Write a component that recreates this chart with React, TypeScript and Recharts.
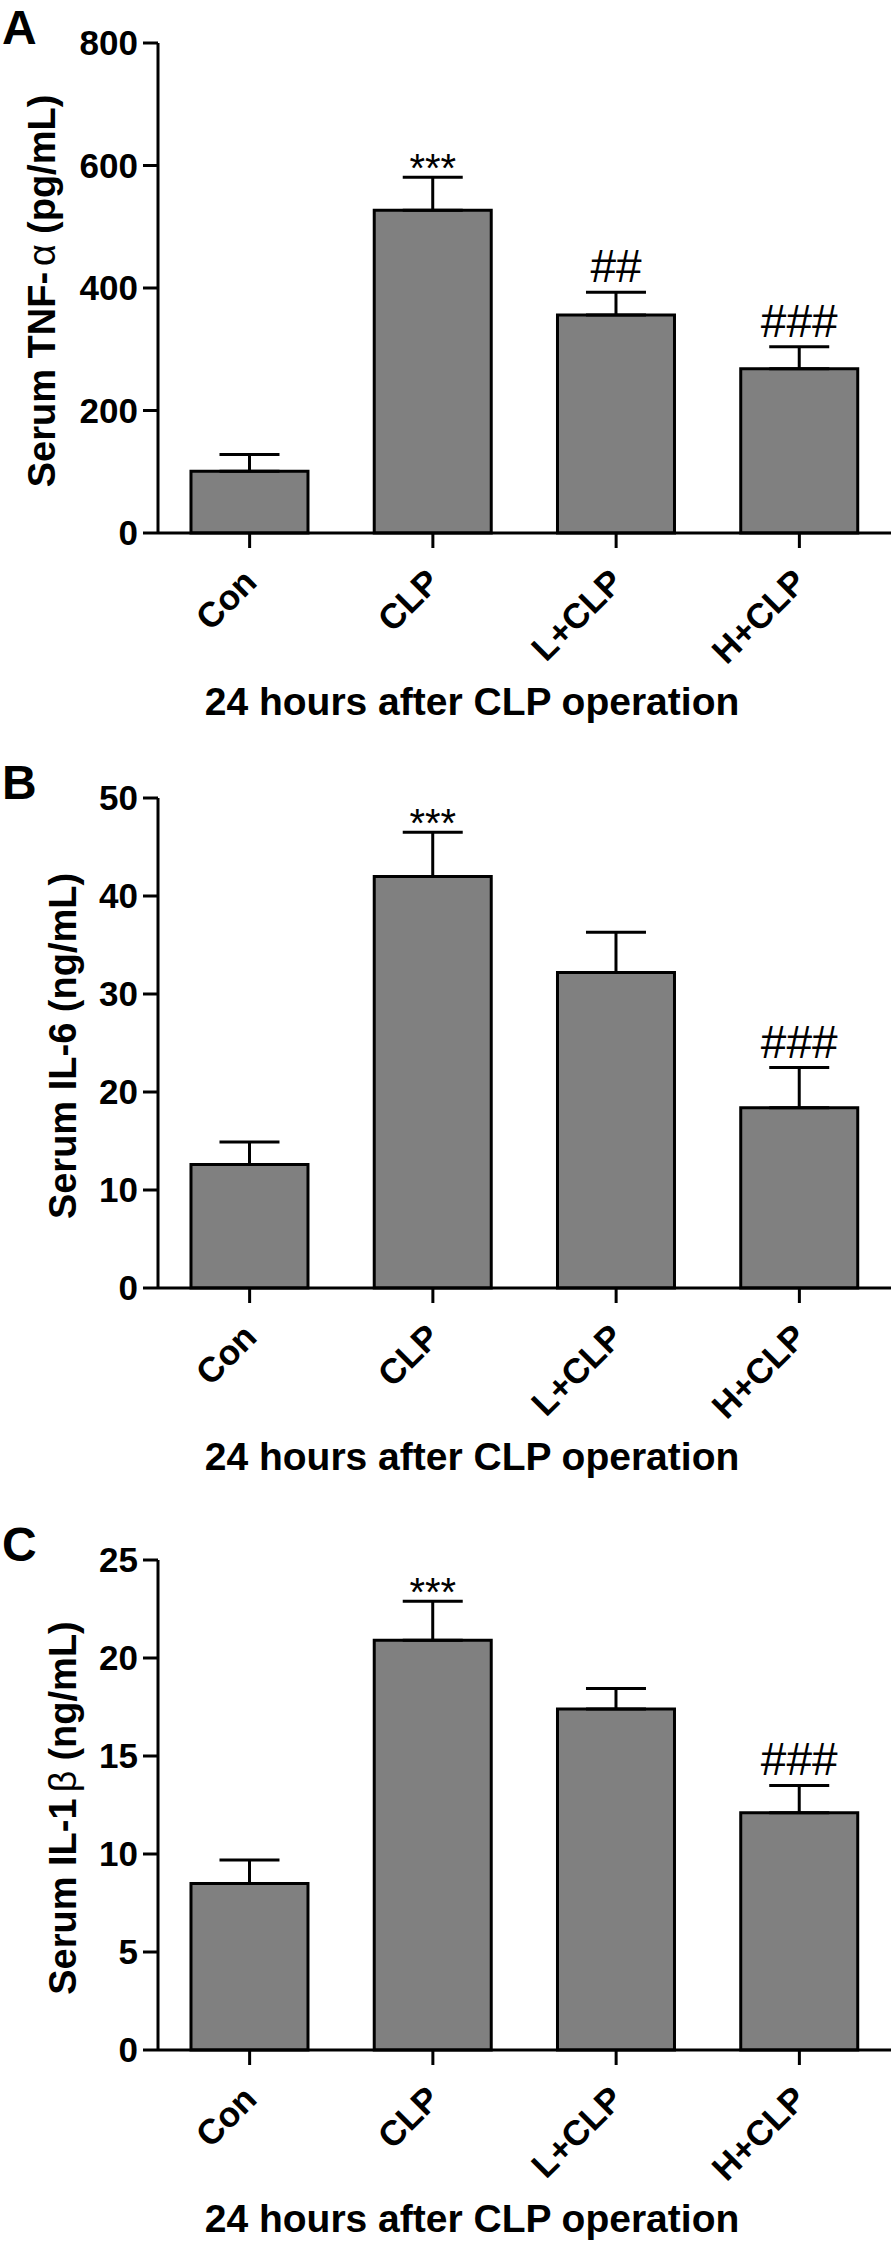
import React from "react";
import { Bar, BarChart, ErrorBar, LabelList, XAxis, YAxis } from "recharts";

const FONT = '"Liberation Sans", Arial, sans-serif';

// groups on the x axis
const groups = ["Con", "CLP", "L+CLP", "H+CLP"];

// A: serum TNF-alpha (pg/mL)
const tnfMean = [101, 527, 356, 268];
const tnfSem = [27, 54, 37, 36];
const tnfSig = ["", "***", "##", "###"];
const tnfTicks = [0, 200, 400, 600, 800];

// B: serum IL-6 (ng/mL)
const il6Mean = [12.6, 42.0, 32.2, 18.4];
const il6Sem = [2.3, 4.5, 4.1, 4.1];
const il6Sig = ["", "***", "", "###"];
const il6Ticks = [0, 10, 20, 30, 40, 50];

// C: serum IL-1beta (ng/mL)
const il1bMean = [8.5, 20.9, 17.4, 12.1];
const il1bSem = [1.2, 2.0, 1.05, 1.4];
const il1bSig = ["", "***", "", "###"];
const il1bTicks = [0, 5, 10, 15, 20, 25];

const xTitle = "24 hours after CLP operation";

function CatTick(props: any) {
  const { x, y, payload } = props;
  return (
    <text
      transform={`translate(${x + 9},${y + 36}) rotate(-45)`}
      textAnchor="end"
      fontSize={35}
      fontWeight={700}
      fontFamily={FONT}
      fill="#000"
    >
      {payload.value}
    </text>
  );
}

const makeSig = (mean: number[], sem: number[]) => (props: any) => {
  const { index, value } = props;
  if (!value) return null;
  const vb = props.viewBox ?? {};
  const x = props.x ?? vb.x;
  const y = props.y ?? vb.y;
  const w = props.width ?? vb.width;
  const h = props.height ?? vb.height;
  const top = y - (sem[index] / mean[index]) * h;
  const star = String(value).startsWith("*");
  return (
    <text
      x={x + w / 2}
      y={star ? top + 5 : top - 10}
      textAnchor="middle"
      fontSize={star ? 40 : 46}
      fontFamily={FONT}
      fill="#000"
    >
      {value}
    </text>
  );
};

type PanelProps = {
  top: number;
  letter: string;
  yTitle: React.ReactNode;
  yTitleX: number;
  mean: number[];
  sem: number[];
  sig: string[];
  ticks: number[];
};

function Panel({ top, letter, yTitle, yTitleX, mean, sem, sig, ticks }: PanelProps) {
  const rows = groups.map((g, i) => ({ group: g, mean: mean[i], err: [0, sem[i]], sig: sig[i] }));
  const axisStroke = { stroke: "#000", strokeWidth: 3 };
  return (
    <div style={{ position: "absolute", left: 0, top, width: 894, height: 725 }}>
      <BarChart
        width={894}
        height={725}
        data={rows}
        margin={{ top: 43, right: 3, left: 0, bottom: 0 }}
        barCategoryGap="18%"
      >
        <XAxis
          dataKey="group"
          height={192}
          interval={0}
          tickSize={15}
          tickMargin={0}
          tickLine={axisStroke}
          axisLine={axisStroke}
          tick={<CatTick />}
        />
        <YAxis
          type="number"
          width={158}
          domain={[0, ticks[ticks.length - 1]]}
          ticks={ticks}
          interval={0}
          tickSize={15}
          tickMargin={5}
          tickLine={axisStroke}
          axisLine={axisStroke}
          tick={{ fontSize: 35, fontWeight: 700, fill: "#000", fontFamily: FONT }}
        />
        <Bar dataKey="mean" fill="#808080" stroke="#000" strokeWidth={3} isAnimationActive={false}>
          <ErrorBar
            dataKey="err"
            direction="y"
            width={30}
            stroke="#000"
            strokeWidth={3}
            isAnimationActive={false}
          />
          <LabelList dataKey="sig" content={makeSig(mean, sem)} />
        </Bar>
      </BarChart>
      <svg
        width={894}
        height={725}
        style={{ position: "absolute", left: 0, top: 0, pointerEvents: "none" }}
        fontFamily={FONT}
      >
        <text x={2} y={44} fontSize={48} fontWeight={700} fill="#000">
          {letter}
        </text>
        <text
          transform={`translate(${yTitleX},291) rotate(-90)`}
          textAnchor="middle"
          fontSize={38}
          fontWeight={700}
          fill="#000"
        >
          {yTitle}
        </text>
        <text x={472} y={715} textAnchor="middle" fontSize={39} fontWeight={700} fill="#000">
          {xTitle}
        </text>
      </svg>
    </div>
  );
}

export default function App() {
  return (
    <div
      style={{
        position: "absolute",
        left: 0,
        top: 0,
        width: 894,
        height: 2242,
        background: "#fff",
        overflow: "hidden",
      }}
    >
      <Panel
        top={0}
        letter="A"
        yTitleX={55}
        yTitle={
          <>
            Serum TNF-
            <tspan fontWeight={400} dx={6}>
              α
            </tspan>
            <tspan dx={10}>(pg/mL)</tspan>
          </>
        }
        mean={tnfMean}
        sem={tnfSem}
        sig={tnfSig}
        ticks={tnfTicks}
      />
      <Panel
        top={755}
        letter="B"
        yTitleX={76}
        yTitle="Serum IL-6 (ng/mL)"
        mean={il6Mean}
        sem={il6Sem}
        sig={il6Sig}
        ticks={il6Ticks}
      />
      <Panel
        top={1517}
        letter="C"
        yTitleX={76}
        yTitle={
          <>
            Serum IL-1
            <tspan fontWeight={400} dx={6}>
              β
            </tspan>
            <tspan dx={10}>(ng/mL)</tspan>
          </>
        }
        mean={il1bMean}
        sem={il1bSem}
        sig={il1bSig}
        ticks={il1bTicks}
      />
    </div>
  );
}
